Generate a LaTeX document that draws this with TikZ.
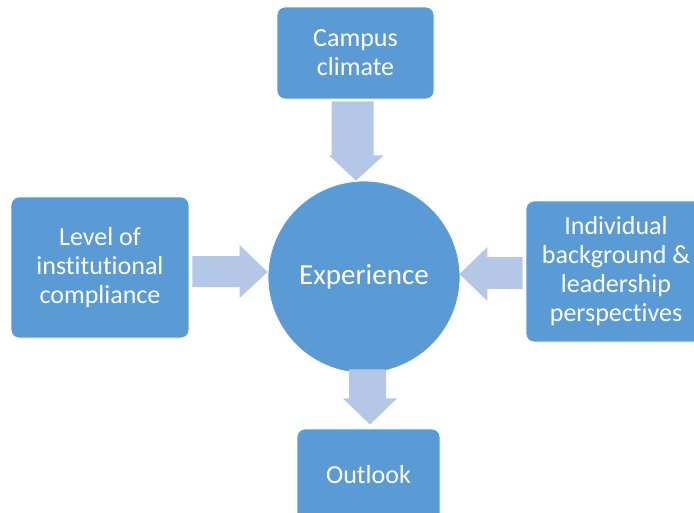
\documentclass[tikz,border=0pt]{standalone}
\usepackage{fontspec}
\setmainfont[Ligatures=NoCommon]{Carlito}
\usetikzlibrary{calc}
\definecolor{boxblue}{HTML}{5B9BD5}
\definecolor{arrowblue}{HTML}{B4C7E7}
\tikzset{
  box/.style={fill=boxblue, draw=white, line width=0.8pt, rounded corners=8pt, align=center,
    text=white, font=\fontsize{26}{29}\selectfont, inner sep=0pt},
  hub/.style={circle, fill=boxblue, draw=white, line width=0.8pt, text=white,
    font=\fontsize{29}{33}\selectfont, inner sep=0pt, minimum size=192pt},
  blockarrow/.style={fill=arrowblue, draw=none}
}
\begin{document}
\begin{tikzpicture}[x=1pt,y=-1pt]
\clip (0,0) rectangle (694,512);
\fill[white] (0,0) rectangle (694,512);
\node[box, minimum width=157pt, minimum height=92pt] (top) at (355.5,53) {Campus\\climate};
\node[box, minimum width=178pt, minimum height=141pt] (left) at (100,267.5) {Level of\\institutional\\compliance};
\node[box, minimum width=180pt, minimum height=141pt] (right) at (616,271.5) {Individual\\background \&\\leadership\\perspectives};
\node[box, minimum width=143pt, minimum height=92pt] (bottom) at (368.5,475) {Outlook};
\node[hub] (hub) at (364,277) {Experience};
% top arrow (down)
\fill[blockarrow] ($(top.south)+(-24,2)$) -- ++(42,0) -- ++(0,54) -- ++(10,0)
  -- ($(hub.north)+(-8,0)$) -- ($(top.south)+(-26.5,56)$) -- ++(2.5,0) -- cycle;
% left arrow (right)
\fill[blockarrow] ($(left.east)+(3,-11.5)$) -- ($(hub.west)+(-28,-21)$) -- ++(0,-11) -- ($(hub.west)+(0,-5)$)
  -- ($(hub.west)+(-28,21)$) -- ++(0,-11) -- ($(left.east)+(3,19.5)$) -- cycle;
% right arrow (left)
\fill[blockarrow] ($(right.west)+(-3,-14.5)$) -- ($(hub.east)+(27,-20)$) -- ++(0,-10) -- ($(hub.east)+(-1,-3)$)
  -- ($(hub.east)+(27,24)$) -- ++(0,-12) -- ($(right.west)+(-3,17.5)$) -- cycle;
% bottom arrow (down)
\fill[blockarrow] ($(hub.south)+(-15,-4)$) -- ++(37,0) -- ++(0,29) -- ++(11,0)
  -- ($(bottom.north)+(1.5,-4)$) -- ($(hub.south)+(-21,25)$) -- ++(6,0) -- cycle;
\end{tikzpicture}
\end{document}
